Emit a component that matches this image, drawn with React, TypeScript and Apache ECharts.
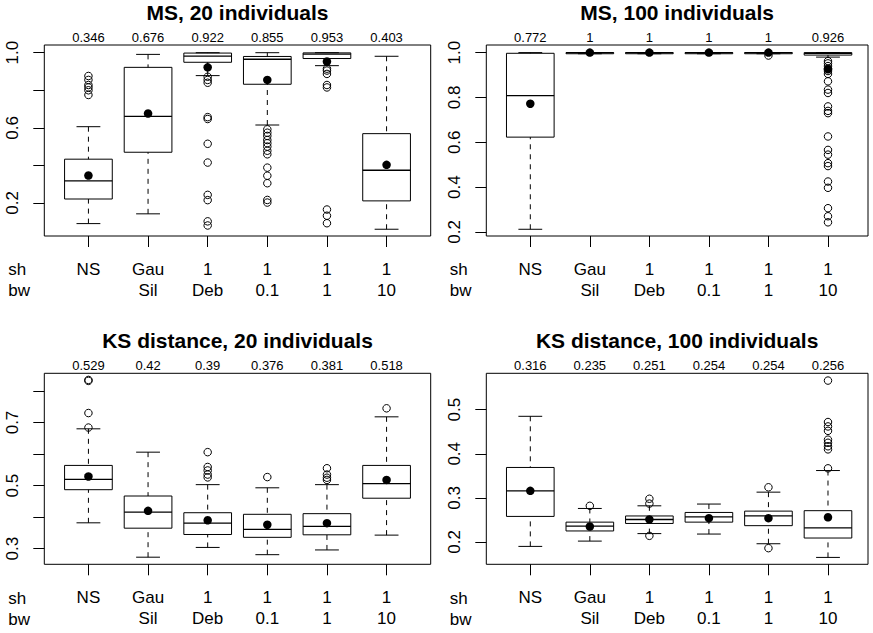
import React, { useEffect, useRef } from "react";
import * as echarts from "echarts";

// ---------- data ----------
const shLabels = ["NS", "Gau", "1", "1", "1", "1"];
const bwLabels = ["", "Sil", "Deb", "0.1", "1", "10"];
const boxPositions = [1, 2, 3, 4, 5, 6];

const panelTitles = [
  "MS, 20 individuals",
  "MS, 100 individuals",
  "KS distance, 20 individuals",
  "KS distance, 100 individuals",
];

// [lower whisker, Q1, median, Q3, upper whisker]
const ms20Boxes = [
  [0.09, 0.221, 0.317, 0.433, 0.606],
  [0.142, 0.47, 0.661, 0.922, 0.991],
  [0.878, 0.949, 0.982, 0.998, 1.0],
  [0.615, 0.832, 0.965, 0.98, 1.0],
  [0.931, 0.969, 0.992, 0.999, 1.0],
  [0.06, 0.211, 0.374, 0.569, 0.981],
];
const ms20Outliers = [
  [0.876, 0.855, 0.828, 0.815, 0.8, 0.775],
  [],
  [0.872, 0.855, 0.84, 0.657, 0.647, 0.515, 0.415, 0.243, 0.215, 0.102, 0.08],
  [0.592, 0.574, 0.557, 0.535, 0.518, 0.5, 0.478, 0.459, 0.388, 0.345, 0.305, 0.216, 0.202],
  [0.915, 0.905, 0.887, 0.828, 0.815, 0.165, 0.132, 0.092],
  [],
];
const ms20Means = [0.346, 0.676, 0.922, 0.855, 0.953, 0.403];

const ms100Boxes = [
  [0.212, 0.623, 0.808, 0.997, 1.0],
  [0.995, 0.995, 1, 1, 1],
  [0.995, 0.995, 1, 1, 1],
  [0.995, 0.995, 1, 1, 1],
  [0.995, 0.995, 1, 1, 1],
  [0.98, 0.989, 0.997, 1.0, 1.0],
];
const ms100Outliers = [
  [],
  [],
  [],
  [],
  [0.987],
  [0.962, 0.952, 0.94, 0.928, 0.918, 0.905, 0.872, 0.835, 0.82, 0.76, 0.74, 0.73, 0.626, 0.566, 0.545, 0.507, 0.494, 0.425, 0.397, 0.306, 0.27, 0.243],
];
const ms100Means = [0.772, 1, 1, 1, 1, 0.926];

const ks20Boxes = [
  [0.382, 0.487, 0.52, 0.564, 0.68],
  [0.273, 0.365, 0.416, 0.467, 0.606],
  [0.304, 0.345, 0.381, 0.414, 0.503],
  [0.281, 0.336, 0.361, 0.409, 0.493],
  [0.296, 0.344, 0.371, 0.411, 0.503],
  [0.343, 0.46, 0.506, 0.564, 0.718],
];
const ks20Outliers = [
  [0.835, 0.832, 0.73, 0.684],
  [],
  [0.606, 0.559, 0.548, 0.535, 0.526],
  [0.527],
  [0.555, 0.535, 0.525, 0.518],
  [0.745],
];
const ks20Means = [0.529, 0.42, 0.39, 0.376, 0.381, 0.518];

const ks100Boxes = [
  [0.19, 0.258, 0.316, 0.369, 0.485],
  [0.202, 0.225, 0.236, 0.245, 0.276],
  [0.219, 0.242, 0.251, 0.259, 0.282],
  [0.218, 0.245, 0.257, 0.267, 0.286],
  [0.196, 0.237, 0.259, 0.27, 0.313],
  [0.165, 0.209, 0.232, 0.271, 0.362],
];
const ks100Outliers = [
  [],
  [0.282],
  [0.298, 0.287, 0.214],
  [],
  [0.324, 0.186],
  [0.566, 0.472, 0.462, 0.452, 0.432, 0.425, 0.417, 0.41, 0.367],
];
const ks100Means = [0.316, 0.235, 0.251, 0.254, 0.254, 0.256];

const ms20YTicks = [0.2, 0.4, 0.6, 0.8, 1.0];
const ms20YLabels = [0.2, 0.6, 1.0];
const ms100YTicks = [0.2, 0.4, 0.6, 0.8, 1.0];
const ms100YLabels = [0.2, 0.4, 0.6, 0.8, 1.0];
const ks20YTicks = [0.3, 0.4, 0.5, 0.6, 0.7, 0.8];
const ks20YLabels = [0.3, 0.5, 0.7];
const ks100YTicks = [0.2, 0.3, 0.4, 0.5];
const ks100YLabels = [0.2, 0.3, 0.4, 0.5];

// ---------- layout ----------
const FONT = "'Liberation Sans', Arial, Helvetica, sans-serif";
const layouts = [
  { left: 44.3, top: 45, width: 386.4, height: 191, xMin: 0.26, xMax: 6.74, yMin: 0.024, yMax: 1.041, rowX: 8.3 },
  { left: 486.3, top: 45, width: 381.7, height: 191, xMin: 0.261, xMax: 6.672, yMin: 0.182, yMax: 1.034, rowX: 449.7 },
  { left: 44.3, top: 373.3, width: 386.4, height: 191, xMin: 0.26, xMax: 6.74, yMin: 0.2505, yMax: 0.856, rowX: 8.3 },
  { left: 486.3, top: 373.3, width: 381.7, height: 191, xMin: 0.261, xMax: 6.672, yMin: 0.1494, yMax: 0.5825, rowX: 449.7 },
];

const panels = [
  { boxes: ms20Boxes, outliers: ms20Outliers, means: ms20Means, yTicks: ms20YTicks, yLabels: ms20YLabels },
  { boxes: ms100Boxes, outliers: ms100Outliers, means: ms100Means, yTicks: ms100YTicks, yLabels: ms100YLabels },
  { boxes: ks20Boxes, outliers: ks20Outliers, means: ks20Means, yTicks: ks20YTicks, yLabels: ks20YLabels },
  { boxes: ks100Boxes, outliers: ks100Outliers, means: ks100Means, yTicks: ks100YTicks, yLabels: ks100YLabels },
];

function buildOption() {
  const grid: any[] = [];
  const xAxis: any[] = [];
  const yAxis: any[] = [];
  const series: any[] = [];
  const graphic: any[] = [];

  panels.forEach((p, i) => {
    const L = layouts[i];
    grid.push({
      left: L.left,
      top: L.top,
      width: L.width,
      height: L.height,
      show: true,
      borderColor: "#000",
      borderWidth: 1,
      backgroundColor: "transparent",
      containLabel: false,
      outerBoundsMode: "none",
    });
    // bottom axis with the two-row labels
    xAxis.push({
      type: "value",
      gridIndex: i,
      position: "bottom",
      min: L.xMin,
      max: L.xMax,
      axisLine: { show: false },
      splitLine: { show: false },
      axisTick: { show: true, customValues: boxPositions, length: 11, lineStyle: { color: "#000", width: 1 } },
      axisLabel: {
        show: true,
        customValues: boxPositions,
        formatter: (v: number) => {
          const k = Math.round(v) - 1;
          return shLabels[k] + "\n" + bwLabels[k];
        },
        margin: 23,
        color: "#000",
        fontFamily: FONT,
        fontSize: 17,
        lineHeight: 21,
      },
    });
    // top axis carrying the mean labels
    xAxis.push({
      type: "value",
      gridIndex: i,
      position: "top",
      min: L.xMin,
      max: L.xMax,
      axisLine: { show: false },
      splitLine: { show: false },
      axisTick: { show: false },
      axisLabel: {
        show: true,
        customValues: boxPositions,
        formatter: (v: number) => String(p.means[Math.round(v) - 1]),
        margin: 1,
        color: "#000",
        fontFamily: FONT,
        fontSize: 13,
      },
    });
    yAxis.push({
      type: "value",
      gridIndex: i,
      min: L.yMin,
      max: L.yMax,
      axisLine: { show: false },
      splitLine: { show: false },
      axisTick: { show: true, customValues: p.yTicks, length: 11, lineStyle: { color: "#000", width: 1 } },
      axisLabel: {
        show: true,
        customValues: p.yLabels,
        rotate: 90,
        formatter: (v: number) => v.toFixed(1),
        margin: 23,
        color: "#000",
        fontFamily: FONT,
        fontSize: 17,
        lineHeight: 17,
      },
    });

    series.push({
      type: "custom",
      xAxisIndex: 2 * i,
      yAxisIndex: i,
      silent: true,
      encode: { x: 0, y: [1, 2, 3, 4, 5] },
      data: p.boxes.map((b, k) => [boxPositions[k], ...b]),
      renderItem: (params: any, api: any) => {
        const x = api.value(0);
        const lo = api.value(1);
        const q1 = api.value(2);
        const med = api.value(3);
        const q3 = api.value(4);
        const hi = api.value(5);
        const half = api.size([0.8, 0])[0] / 2;
        const cap = half / 2;
        const cx = api.coord([x, lo])[0];
        const yLo = api.coord([x, lo])[1];
        const yQ1 = api.coord([x, q1])[1];
        const yMed = api.coord([x, med])[1];
        const yQ3 = api.coord([x, q3])[1];
        const yHi = api.coord([x, hi])[1];
        const solid = { stroke: "#000", lineWidth: 1, fill: "none" };
        const dashed = { stroke: "#000", lineWidth: 1, lineDash: [5, 5], fill: "none" };
        return {
          type: "group",
          children: [
            { type: "line", shape: { x1: cx, y1: yHi, x2: cx, y2: yQ3 }, style: dashed },
            { type: "line", shape: { x1: cx, y1: yLo, x2: cx, y2: yQ1 }, style: dashed },
            { type: "line", shape: { x1: cx - cap, y1: yHi, x2: cx + cap, y2: yHi }, style: solid },
            { type: "line", shape: { x1: cx - cap, y1: yLo, x2: cx + cap, y2: yLo }, style: solid },
            { type: "rect", shape: { x: cx - half, y: yQ3, width: 2 * half, height: yQ1 - yQ3 }, style: solid },
            { type: "line", shape: { x1: cx - half, y1: yMed, x2: cx + half, y2: yMed }, style: { stroke: "#000", lineWidth: 1.3 } },
          ],
        };
      },
      z: 2,
    });

    const outData: number[][] = [];
    p.outliers.forEach((arr, k) => arr.forEach((v) => outData.push([boxPositions[k], v])));
    series.push({
      type: "scatter",
      xAxisIndex: 2 * i,
      yAxisIndex: i,
      silent: true,
      symbol: "circle",
      symbolSize: 7.5,
      itemStyle: { color: "rgba(0,0,0,0)", borderColor: "#000", borderWidth: 1, opacity: 1 },
      data: outData,
      z: 3,
    });
    series.push({
      type: "scatter",
      xAxisIndex: 2 * i,
      yAxisIndex: i,
      silent: true,
      symbol: "circle",
      symbolSize: 8.5,
      itemStyle: { color: "#000", opacity: 1 },
      data: p.means.map((m, k) => [boxPositions[k], m]),
      z: 4,
    });

    // title
    graphic.push({
      type: "text",
      x: L.left + L.width / 2,
      y: L.top - 33,
      style: {
        text: panelTitles[i],
        fill: "#000",
        font: `bold 21px ${FONT}`,
        align: "center",
        textAlign: "center",
        verticalAlign: "middle",
        textVerticalAlign: "middle",
      },
      silent: true,
    });
    // row names
    graphic.push({
      type: "text",
      x: L.rowX,
      y: L.top + 224.8,
      style: { text: "sh", fill: "#000", font: `17px ${FONT}`, align: "left", textAlign: "left", verticalAlign: "middle", textVerticalAlign: "middle" },
      silent: true,
    });
    graphic.push({
      type: "text",
      x: L.rowX,
      y: L.top + 245.8,
      style: { text: "bw", fill: "#000", font: `17px ${FONT}`, align: "left", textAlign: "left", verticalAlign: "middle", textVerticalAlign: "middle" },
      silent: true,
    });
  });

  return {
    animation: false,
    backgroundColor: "#fff",
    grid,
    xAxis,
    yAxis,
    series,
    graphic,
  };
}

export default function App() {
  const ref = useRef<HTMLDivElement>(null);
  useEffect(() => {
    if (!ref.current) return;
    const chart = echarts.init(ref.current, undefined, { renderer: "svg" });
    chart.setOption(buildOption() as any);
    return () => chart.dispose();
  }, []);
  return (
    <div
      ref={ref}
      style={{ position: "absolute", left: 0, top: 0, width: 873, height: 633, background: "#fff" }}
    />
  );
}
